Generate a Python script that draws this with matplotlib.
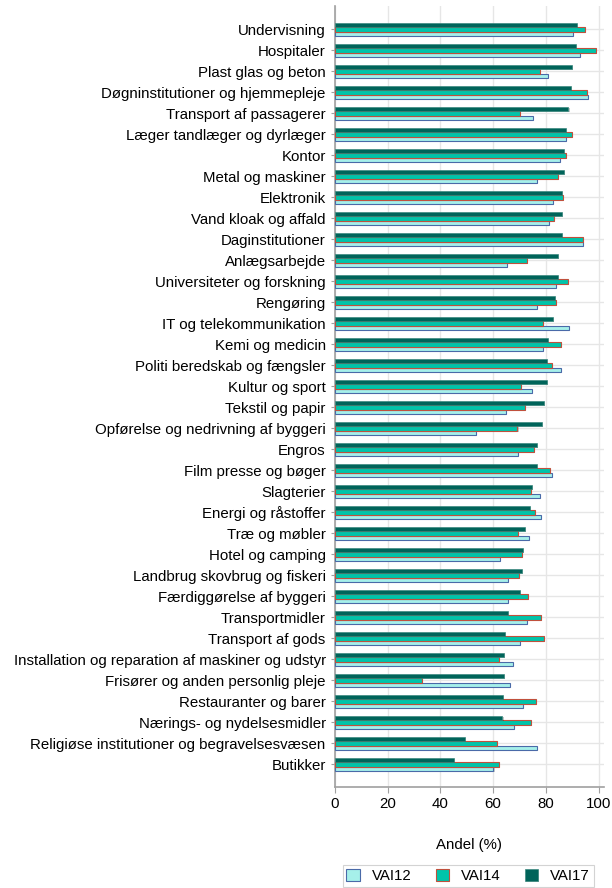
import matplotlib.pyplot as plt
import matplotlib.patheffects as pe
import numpy as np

plt.rcParams['font.family'] = ['Liberation Sans', 'DejaVu Sans']

# Brancher, oppefra og ned
categories = ["Undervisning", "Hospitaler", "Plast glas og beton",
              "Døgninstitutioner og hjemmepleje", "Transport af passagerer",
              "Læger tandlæger og dyrlæger", "Kontor", "Metal og maskiner",
              "Elektronik", "Vand kloak og affald", "Daginstitutioner",
              "Anlægsarbejde", "Universiteter og forskning", "Rengøring",
              "IT og telekommunikation", "Kemi og medicin",
              "Politi beredskab og fængsler", "Kultur og sport",
              "Tekstil og papir", "Opførelse og nedrivning af byggeri",
              "Engros", "Film presse og bøger", "Slagterier",
              "Energi og råstoffer", "Træ og møbler", "Hotel og camping",
              "Landbrug skovbrug og fiskeri", "Færdiggørelse af byggeri",
              "Transportmidler", "Transport af gods",
              "Installation og reparation af maskiner og udstyr",
              "Frisører og anden personlig pleje", "Restauranter og barer",
              "Nærings- og nydelsesmidler",
              "Religiøse institutioner og begravelsesvæsen", "Butikker"]

vai12 = [90.3, 92.8, 80.7, 96.0, 75.0, 87.6, 85.2, 76.5,
         82.6, 81.2, 93.9, 65.2, 83.8, 76.6, 88.7, 78.9,
         85.6, 74.7, 64.7, 53.5, 69.5, 82.2, 77.6, 78.0,
         73.6, 62.6, 65.6, 65.5, 72.8, 70.2, 67.5, 66.5,
         71.3, 67.8, 76.6, 60.1]
vai14 = [94.9, 99.1, 77.7, 95.4, 70.2, 90.0, 87.5, 84.6,
         86.5, 82.9, 94.1, 72.9, 88.4, 83.8, 78.9, 85.7,
         82.4, 70.4, 72.1, 69.2, 75.3, 81.5, 74.3, 75.9,
         69.4, 70.8, 69.8, 73.3, 78.1, 79.4, 62.3, 33.0,
         76.2, 74.3, 61.6, 62.2]
vai17 = [91.7, 91.2, 89.8, 89.6, 88.5, 87.4, 86.9, 86.7,
         86.2, 86.2, 86.2, 84.7, 84.6, 83.3, 82.8, 80.9,
         80.5, 80.4, 79.4, 78.6, 76.7, 76.5, 74.8, 74.1,
         71.9, 71.4, 71.0, 70.3, 65.7, 64.6, 64.1, 64.0,
         63.8, 63.5, 49.4, 45.3]

fig = plt.figure(figsize=(6.12, 8.88), dpi=100)
ax = fig.add_axes([0.547, 0.114, 0.44, 0.879])

y = np.arange(len(categories))
h = 0.215
shadow = [pe.SimplePatchShadow(offset=(0.8, -0.8), alpha=0.25), pe.Normal()]

ax.barh(y + h, vai12, height=h, color='#a6f0ea', edgecolor='#4a6aa8',
        linewidth=0.8, label='VAI12', zorder=3, path_effects=shadow)
ax.barh(y, vai14, height=h, color='#00c4aa', edgecolor='#c0503c',
        linewidth=0.8, label='VAI14', zorder=3, path_effects=shadow)
ax.barh(y - h, vai17, height=h, color='#00645a', edgecolor='#3d8a80',
        linewidth=0.5, label='VAI17', zorder=3, path_effects=shadow)

ax.set_yticks(y)
ax.set_yticklabels(categories, fontsize=10.8)
ax.set_ylim(len(categories) - 1 + 1.07, -1.1)
ax.set_xlim(0, 102)
ax.set_xticks([0, 20, 40, 60, 80, 100])
ax.tick_params(axis='x', labelsize=10.8, length=4, color='#a0a0a0')
ax.tick_params(axis='y', length=3, color='#a0a0a0')
ax.set_xlabel('Andel (%)', fontsize=10.8, labelpad=19)

ax.grid(True, color='#e6e6e6', linewidth=1, zorder=0)
ax.set_axisbelow(True)
for s in ['top', 'right']:
    ax.spines[s].set_visible(False)
for s in ['left', 'bottom']:
    ax.spines[s].set_color('#a0a0a0')
    ax.spines[s].set_linewidth(1.2)

leg = fig.legend(loc='lower center', bbox_to_anchor=(0.765, -0.007), ncol=3,
                 fontsize=10.8, frameon=True, fancybox=False,
                 handlelength=0.9, handleheight=0.9, columnspacing=1.6,
                 borderpad=0.25)
leg.get_frame().set_edgecolor('#c8c8c8')
leg.get_frame().set_linewidth(0.8)

fig.savefig('out.png', dpi=100)
